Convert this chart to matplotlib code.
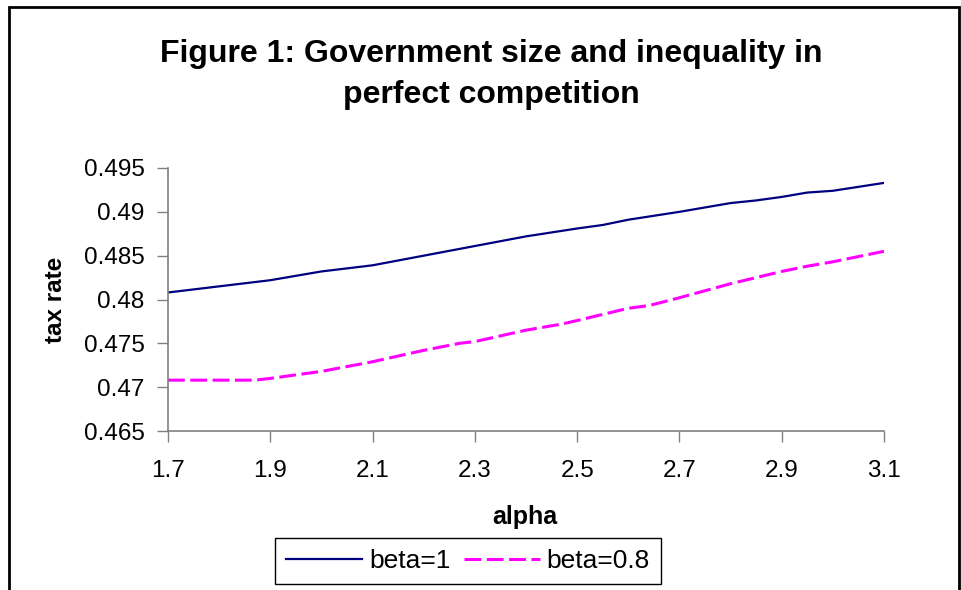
import matplotlib
matplotlib.use('Agg')
from matplotlib import pyplot as plt
from matplotlib.patches import Rectangle

plt.rcParams['font.family'] = ['Liberation Sans', 'DejaVu Sans']

# data
alpha_1 = [1.7, 1.8, 1.9, 2.0, 2.1, 2.2, 2.3, 2.4, 2.5, 2.55, 2.6, 2.7, 2.8, 2.85, 2.9, 2.95, 3.0, 3.1]
beta_1 = [0.4808, 0.4815, 0.4822, 0.4832, 0.4839, 0.4850, 0.4861, 0.4872, 0.4881, 0.4885, 0.4891, 0.4900,
          0.4910, 0.4913, 0.4917, 0.4922, 0.4924, 0.4933]
alpha_08 = [1.7, 1.8, 1.87, 1.9, 2.0, 2.1, 2.2, 2.27, 2.3, 2.4, 2.47, 2.5, 2.6, 2.64, 2.7, 2.8, 2.9, 2.95, 3.0, 3.1]
beta_08 = [0.4708, 0.4708, 0.4708, 0.4710, 0.4718, 0.4729, 0.4742, 0.4750, 0.4752, 0.4765, 0.4772, 0.4776,
           0.4790, 0.4793, 0.4802, 0.4818, 0.4832, 0.4838, 0.4843, 0.4855]

xticks = [1.7, 1.9, 2.1, 2.3, 2.5, 2.7, 2.9, 3.1]
yticks = [0.465, 0.47, 0.475, 0.48, 0.485, 0.49, 0.495]
yticklabels = ['0.465', '0.47', '0.475', '0.48', '0.485', '0.49', '0.495']

W, H = 962, 590
fig = plt.figure(figsize=(W/100, H/100), dpi=100)
ax = fig.add_axes([168/W, 1-431/H, (884-168)/W, (431-168)/H])

ax.plot(alpha_1, beta_1, color='#000080', lw=1.6, label='beta=1')
ax.plot(alpha_08, beta_08, color='#FF00FF', lw=2.2, dashes=(5.5, 1.8), label='beta=0.8')

ax.set_xlim(1.7, 3.1)
ax.set_ylim(0.465, 0.495)
ax.set_xticks(xticks)
ax.set_xticklabels([str(x) for x in xticks])
ax.set_yticks(yticks)
ax.set_yticklabels(yticklabels)
ax.tick_params(labelsize=17.5, length=8, width=1, color='#808080', pad=9)
ax.tick_params(axis='x', pad=13)
for s in ['top', 'right']:
	ax.spines[s].set_visible(False)
for s in ['left', 'bottom']:
	ax.spines[s].set_color('#808080')
	ax.spines[s].set_linewidth(1.2)

ax.set_ylabel('tax rate', fontsize=17.5, fontweight='bold', labelpad=12)
ax.set_xlabel('alpha', fontsize=18, fontweight='bold')
ax.xaxis.set_label_coords((525-168)/(884-168), -(517-431)/(431-168))
ax.xaxis.label.set_va('center')

fig.text(491/W, 1-54/H, 'Figure 1: Government size and inequality in', ha='center', va='center',
	fontsize=23, fontweight='bold')
fig.text(491/W, 1-95/H, 'perfect competition', ha='center', va='center',
	fontsize=23, fontweight='bold')

leg = fig.legend(loc='center', bbox_to_anchor=(468/W, 1-561/H), ncol=2, fontsize=19,
	frameon=True, fancybox=False, handlelength=2.9, columnspacing=0.5, handletextpad=0.25,
	borderpad=0.42, framealpha=1)
leg.get_frame().set_edgecolor('black')
leg.get_frame().set_linewidth(1)

# chart border
fig.patches.append(Rectangle((9/W, -0.1), (959-9)/W, 1.1-7/H, transform=fig.transFigure,
	fill=False, edgecolor='black', linewidth=2))

plt.savefig('out.png', dpi=100)
plt.close()
